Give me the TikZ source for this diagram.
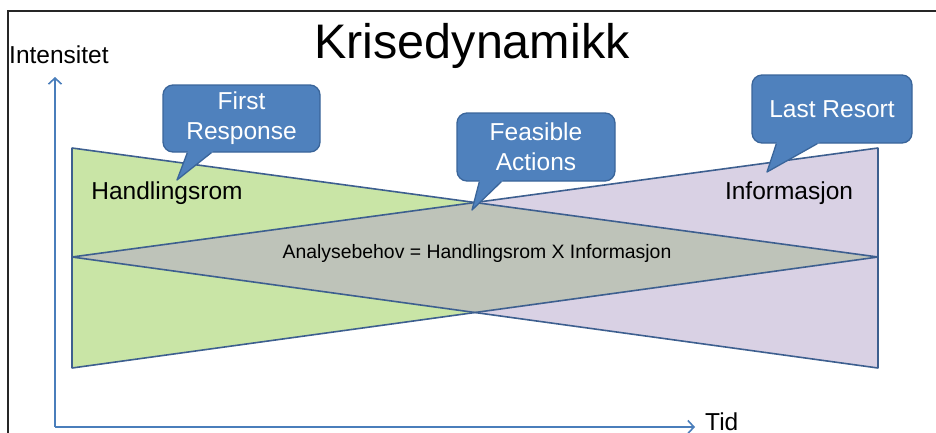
\documentclass[tikz,border=0pt]{standalone}
\usepackage{fontspec}
\setmainfont{Liberation Sans}
\usetikzlibrary{arrows.meta,calc}
\definecolor{greenfill}{HTML}{C9E5A6}
\definecolor{purplefill}{HTML}{D9D1E4}
\definecolor{grayfill}{HTML}{BEC3B9}
\definecolor{edgeblue}{HTML}{3D5F8F}
\definecolor{callfill}{HTML}{4F81BD}
\definecolor{calledge}{HTML}{3A659A}
\definecolor{axisblue}{HTML}{4A7EBB}
\tikzset{
  callbox/.style={fill=callfill, draw=calledge, line width=1.3pt, rounded corners=10pt,
    text=white, align=center, font=\fontsize{24.5}{30}\selectfont, inner sep=0pt},
  tailfill/.style={fill=callfill},
  tailedge/.style={draw=calledge, line width=1.3pt, line join=round},
  shapeedge/.style={draw=edgeblue, line width=1.6pt, line join=bevel},
  axisline/.style={draw=axisblue, line width=1.6pt, -{Straight Barb[length=6pt,width=13pt,line width=1.6pt]}},
  lbl/.style={font=\fontsize{24.5}{29}\selectfont, inner sep=0pt}
}
\begin{document}
\begin{tikzpicture}[x=1pt,y=-1pt]
\useasboundingbox (0,0) rectangle (936,432);
% frame
\draw[line width=1.2pt, black!85] (8,440) -- (8,11) -- (940,11);
% bowtie coordinates
\coordinate (gtl) at (72,148);
\coordinate (gbl) at (72,368);
\coordinate (gapex) at (878,257);
\coordinate (ptr) at (878,148);
\coordinate (pbr) at (878,368);
\coordinate (papex) at (72,257);
\coordinate (xtop) at (intersection of gtl--gapex and ptr--papex);
\coordinate (xbot) at (intersection of gbl--gapex and pbr--papex);
\fill[greenfill] (gtl) -- (gbl) -- (gapex) -- cycle;
\fill[purplefill] (ptr) -- (pbr) -- (papex) -- cycle;
\fill[grayfill] (papex) -- (xtop) -- (gapex) -- (xbot) -- cycle;
\draw[shapeedge] (gtl) -- (gbl) -- (gapex) -- cycle;
\draw[shapeedge] (ptr) -- (pbr) -- (papex) -- cycle;
% axes
\coordinate (origin) at (55,427);
\coordinate (ytip) at (55,77);
\coordinate (xtip) at (695,427);
\draw[axisline] (origin) -- (ytip);
\draw[axisline] (origin) -- (xtip);
% texts
\node (title) at (472,46) {\fontsize{48.5}{56}\selectfont Krisedynamikk};
\node[lbl, anchor=west] (inten) at (9,55) {Intensitet};
\node[lbl, anchor=west] (tid) at (705,422) {Tid};
\node[lbl] (hand) at (167,193) {Handlingsrom};
\node[lbl] (info) at (789,193) {Informasjon};
\node[font=\fontsize{19.4}{23}\selectfont, inner sep=0pt] (analyse) at (477,253) {Analysebehov = Handlingsrom X Informasjon};
% callouts
\node[callbox, minimum width=157pt, minimum height=67pt] (fr) at (241.5,118.5) {First\\Response};
\coordinate (frtip) at (177,180);
\coordinate (frL) at ($(fr.south west)+(25,0)$);
\coordinate (frR) at ($(fr.south west)+(49,0)$);
\fill[tailfill] ($(frtip)!1.12!(frL)$) -- (frtip) -- ($(frtip)!1.12!(frR)$) -- cycle;
\draw[tailedge] (frL) -- (frtip) -- (frR);

\node[callbox, minimum width=158pt, minimum height=68pt] (fa) at (536,147) {Feasible\\Actions};
\coordinate (fatip) at (472,210);
\coordinate (faL) at ($(fa.south west)+(23,0)$);
\coordinate (faR) at ($(fa.south west)+(45,0)$);
\fill[tailfill] ($(fatip)!1.12!(faL)$) -- (fatip) -- ($(fatip)!1.12!(faR)$) -- cycle;
\draw[tailedge] (faL) -- (fatip) -- (faR);

\node[callbox, minimum width=160pt, minimum height=68pt] (lr) at (832,109) {Last Resort};
\coordinate (lrtip) at (767,172);
\coordinate (lrL) at ($(lr.south west)+(25,0)$);
\coordinate (lrR) at ($(lr.south west)+(66,0)$);
\fill[tailfill] ($(lrtip)!1.12!(lrL)$) -- (lrtip) -- ($(lrtip)!1.12!(lrR)$) -- cycle;
\draw[tailedge] (lrL) -- (lrtip) -- (lrR);
\end{tikzpicture}
\end{document}
